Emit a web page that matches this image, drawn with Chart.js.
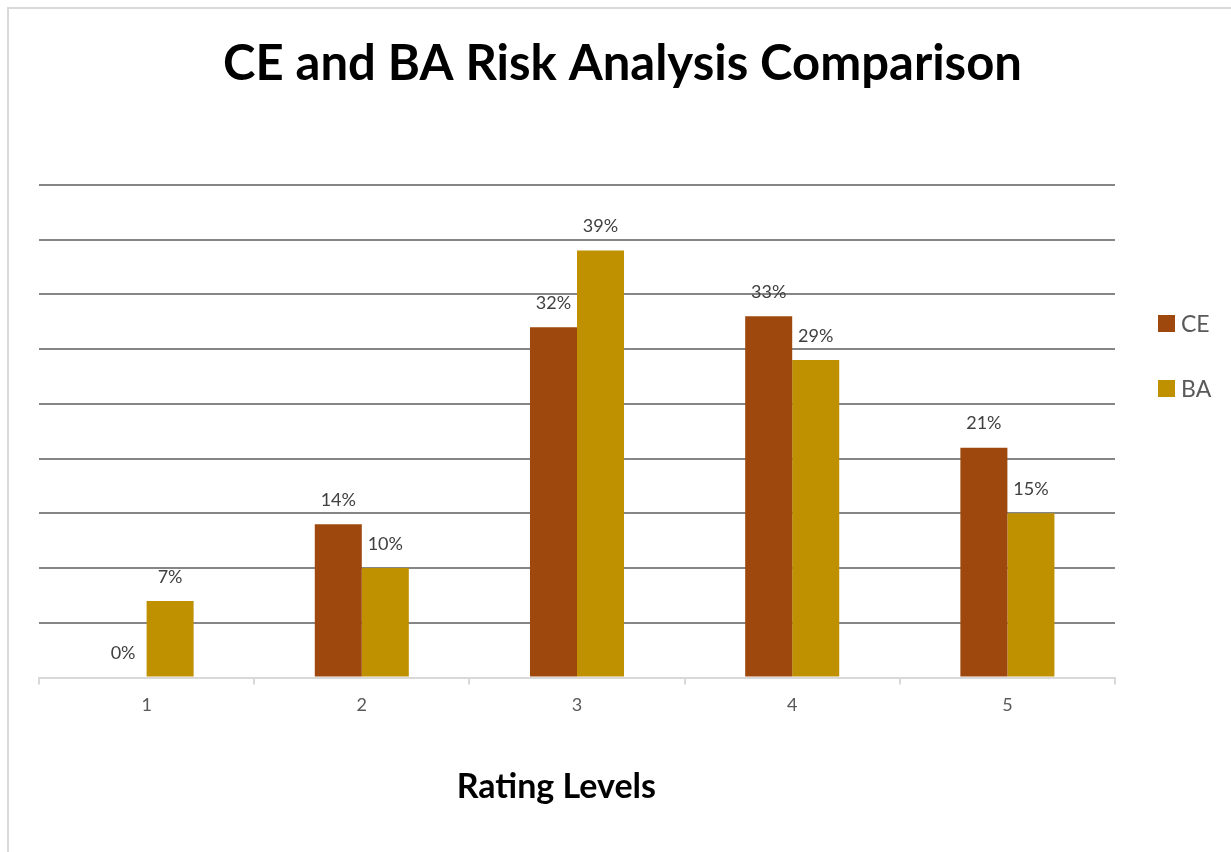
<!DOCTYPE html>
<html>
<head>
<meta charset="utf-8">
<script src="https://cdn.jsdelivr.net/npm/chart.js@4"></script>
<style>
  html, body { margin: 0; padding: 0; background: #fff; }
  .frame {
    position: absolute; left: 7px; top: 7px; width: 1240px; height: 860px;
    border-left: 2px solid #d9d9d9; border-top: 2px solid #d9d9d9;
  }
  .wrap { position: absolute; left: 0; top: 0; width: 1231px; height: 852px; }
  .chart-legend { position: absolute; left: 1158px; top: 309px; font-family: Lato, sans-serif; }
  .legend-item { display: flex; align-items: center; height: 28px; margin-bottom: 37px;
    font-size: 23px; color: #595959; }
  .legend-color { display: inline-block; width: 17px; height: 17px; margin-right: 6px; }
</style>
</head>
<body>
<div class="frame"></div>
<div class="wrap"><canvas id="riskChart" width="1231" height="852"></canvas></div>
<div class="chart-legend"></div>
<script>
const categories = ["1", "2", "3", "4", "5"];
const ceValues = [0, 14, 32, 33, 21];
const baValues = [7, 10, 39, 29, 15];
const seriesNames = ["CE", "BA"];
const seriesColors = ["#9E480E", "#BF9000"];

// value labels above each bar
const barLabels = {
  id: "barLabels",
  afterDatasetsDraw(chart) {
    const ctx = chart.ctx;
    ctx.save();
    ctx.font = "18px Lato, sans-serif";
    ctx.fillStyle = "#404040";
    ctx.textAlign = "center";
    ctx.textBaseline = "middle";
    chart.data.datasets.forEach((ds, i) => {
      chart.getDatasetMeta(i).data.forEach((bar, j) => {
        ctx.fillText(ds.data[j] + "%", bar.x, bar.y - 24);
      });
    });
    ctx.restore();
  }
};

const chart = new Chart(document.getElementById("riskChart"), {
  type: "bar",
  data: {
    labels: categories,
    datasets: [
      { label: seriesNames[0], data: ceValues, backgroundColor: seriesColors[0] },
      { label: seriesNames[1], data: baValues, backgroundColor: seriesColors[1] }
    ]
  },
  options: {
    responsive: false,
    animation: false,
    categoryPercentage: 0.437,
    barPercentage: 1,
    layout: { padding: { left: 14, right: 0, top: 0, bottom: 45 } },
    plugins: {
      legend: { display: false },  // html legend below
      tooltip: { enabled: false },
      title: {
        display: true,
        text: "CE and BA Risk Analysis Comparison",
        font: { family: "Lato", size: 49, weight: "bold" },
        color: "#000",
        padding: { top: 35, bottom: 91 }
      }
    },
    scales: {
      x: {
        grid: { drawOnChartArea: false, drawTicks: true, tickLength: 7, color: "#d9d9d9", lineWidth: 2 },
        border: { color: "#d9d9d9", width: 2 },
        ticks: { color: "#595959", font: { family: "Lato", size: 18 }, padding: 10 },
        title: {
          display: true,
          text: "Rating Levels     ",
          color: "#000",
          font: { family: "Lato", size: 34, weight: "bold" },
          padding: { top: 40, bottom: 0 }
        }
      },
      y: {
        min: 0,
        max: 45,
        ticks: { display: false, stepSize: 5 },
        grid: { color: "#868686", lineWidth: 2, drawTicks: false },
        border: { display: false },
        afterFit(scale) { scale.width = 25; }
      },
      // empty right axis keeps room for the legend
      yRight: {
        position: "right",
        display: true,
        ticks: { display: false },
        grid: { display: false },
        border: { display: false },
        afterFit(scale) { scale.width = 116; }
      }
    }
  },
  plugins: [barLabels]
});

// legend
const legendEl = document.querySelector(".chart-legend");
legendEl.innerHTML = "";
chart.data.datasets.forEach(ds => {
  const item = document.createElement("div");
  item.className = "legend-item";
  item.innerHTML = `<span class="legend-color" style="background:${ds.backgroundColor}"></span><span>${ds.label}</span>`;
  legendEl.appendChild(item);
});
</script>
</body>
</html>
